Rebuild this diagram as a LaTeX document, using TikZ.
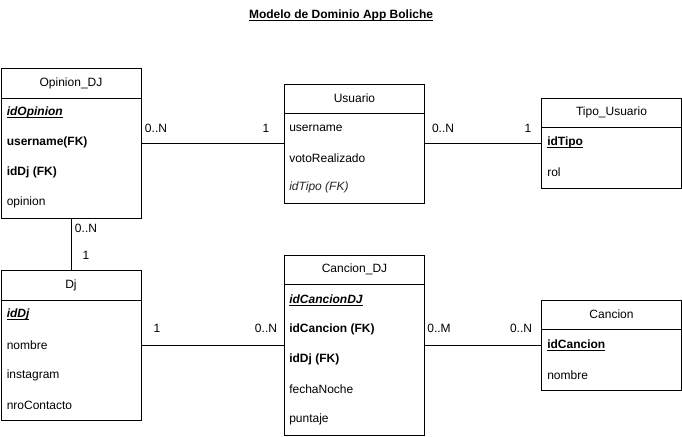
\documentclass[tikz,border=0pt]{standalone}
\usepackage{fontspec}
\setmainfont{Liberation Sans}
\usetikzlibrary{calc}
\newcommand{\myul}[1]{\underline{\smash{#1}}\vphantom{#1}}
\begin{document}
\begin{tikzpicture}[x=0.75pt,y=-0.75pt, font=\fontsize{9}{11}\selectfont,
  ent/.style={draw, line width=0.75pt, rectangle, inner sep=0, anchor=north west, minimum width=105pt},
  row/.style={anchor=west, inner sep=0},
  lbl/.style={inner sep=0},
  conn/.style={line width=0.75pt}]
\useasboundingbox (0,0) rectangle (682,436);

\node[inner sep=0] (title) at (341,15) {\textbf{\myul{Modelo de Dominio App Boliche}}};

% Opinion_DJ
\node[ent, minimum height=112.5pt] (op) at (0.5,68) {};
\draw[conn] ($(op.north west)+(0,30)$) -- ($(op.north east)+(0,30)$);
\node (opT) at ($(op.north)+(0,15)$) {Opinion\_DJ};
\node[row] (op1) at ($(op.north west)+(6,44)$) {\textbf{\textit{\myul{idOpinion}}}};
\node[row] (op2) at ($(op.north west)+(6,74)$) {\textbf{username(FK)}};
\node[row] (op3) at ($(op.north west)+(6,104)$) {\textbf{idDj (FK)}};
\node[row] (op4) at ($(op.north west)+(6,134)$) {opinion};

% Usuario
\node[ent, minimum height=89.25pt] (us) at (284,84) {};
\draw[conn] ($(us.north west)+(0,29)$) -- ($(us.north east)+(0,29)$);
\node (usT) at ($(us.north)+(0,14.5)$) {Usuario};
\node[row] (us1) at ($(us.north west)+(5,44)$) {username};
\node[row] (us2) at ($(us.north west)+(5,74)$) {votoRealizado};
\node[row, text=black!85] (us3) at ($(us.north west)+(5,103)$) {\textit{idTipo (FK)}};

% Tipo_Usuario
\node[ent, minimum height=67.5pt] (tu) at (541,98) {};
\draw[conn] ($(tu.north west)+(0,29)$) -- ($(tu.north east)+(0,29)$);
\node (tuT) at ($(tu.north)+(0,14.5)$) {Tipo\_Usuario};
\node[row] (tu1) at ($(tu.north west)+(6,44)$) {\textbf{\myul{idTipo}}};
\node[row] (tu2) at ($(tu.north west)+(6,74)$) {rol};

% Dj
\node[ent, minimum height=112.5pt] (dj) at (0.5,270) {};
\draw[conn] ($(dj.north west)+(0,30)$) -- ($(dj.north east)+(0,30)$);
\node (djT) at ($(dj.north)+(0,15)$) {Dj};
\node[row] (dj1) at ($(dj.north west)+(6,44)$) {\textbf{\textit{\myul{idDj}}}};
\node[row] (dj2) at ($(dj.north west)+(6,75)$) {nombre};
\node[row] (dj3) at ($(dj.north west)+(6,105)$) {instagram};
\node[row] (dj4) at ($(dj.north west)+(6,135)$) {nroContacto};

% Cancion_DJ
\node[ent, minimum height=135pt] (cd) at (284,255) {};
\draw[conn] ($(cd.north west)+(0,29)$) -- ($(cd.north east)+(0,29)$);
\node (cdT) at ($(cd.north)+(0,14.5)$) {Cancion\_DJ};
\node[row] (cd1) at ($(cd.north west)+(5,45)$) {\textbf{\textit{\myul{idCancionDJ}}}};
\node[row] (cd2) at ($(cd.north west)+(5,74)$) {\textbf{idCancion (FK)}};
\node[row] (cd3) at ($(cd.north west)+(5,104)$) {\textbf{idDj (FK)}};
\node[row] (cd4) at ($(cd.north west)+(5,134)$) {fechaNoche};
\node[row] (cd5) at ($(cd.north west)+(5,164)$) {puntaje};

% Cancion
\node[ent, minimum height=67.5pt] (ca) at (541,300) {};
\draw[conn] ($(ca.north west)+(0,29)$) -- ($(ca.north east)+(0,29)$);
\node (caT) at ($(ca.north)+(0,14.5)$) {Cancion};
\node[row] (ca1) at ($(ca.north west)+(6,45)$) {\textbf{\myul{idCancion}}};
\node[row] (ca2) at ($(ca.north west)+(6,75)$) {nombre};

% connectors
\draw[conn] (op.east) -- (op.east -| us.west);
\draw[conn] (us.east |- tu.west) -- (tu.west);
\draw[conn] (op.south) -- (dj.north);
\draw[conn] (dj.east) -- (dj.east -| cd.west);
\draw[conn] (cd.east |- ca.west) -- (ca.west);

% multiplicities
\node[lbl] (m1) at (156,128) {0..N};
\node[lbl] (m2) at (266,128) {1};
\node[lbl] (m3) at (443,128) {0..N};
\node[lbl] (m4) at (528,128) {1};
\node[lbl] (m5) at (86,228) {0..N};
\node[lbl] (m6) at (86,255) {1};
\node[lbl] (m7) at (157,328) {1};
\node[lbl] (m8) at (266,328) {0..N};
\node[lbl] (m9) at (439,328) {0..M};
\node[lbl] (m10) at (521,328) {0..N};
\end{tikzpicture}
\end{document}
